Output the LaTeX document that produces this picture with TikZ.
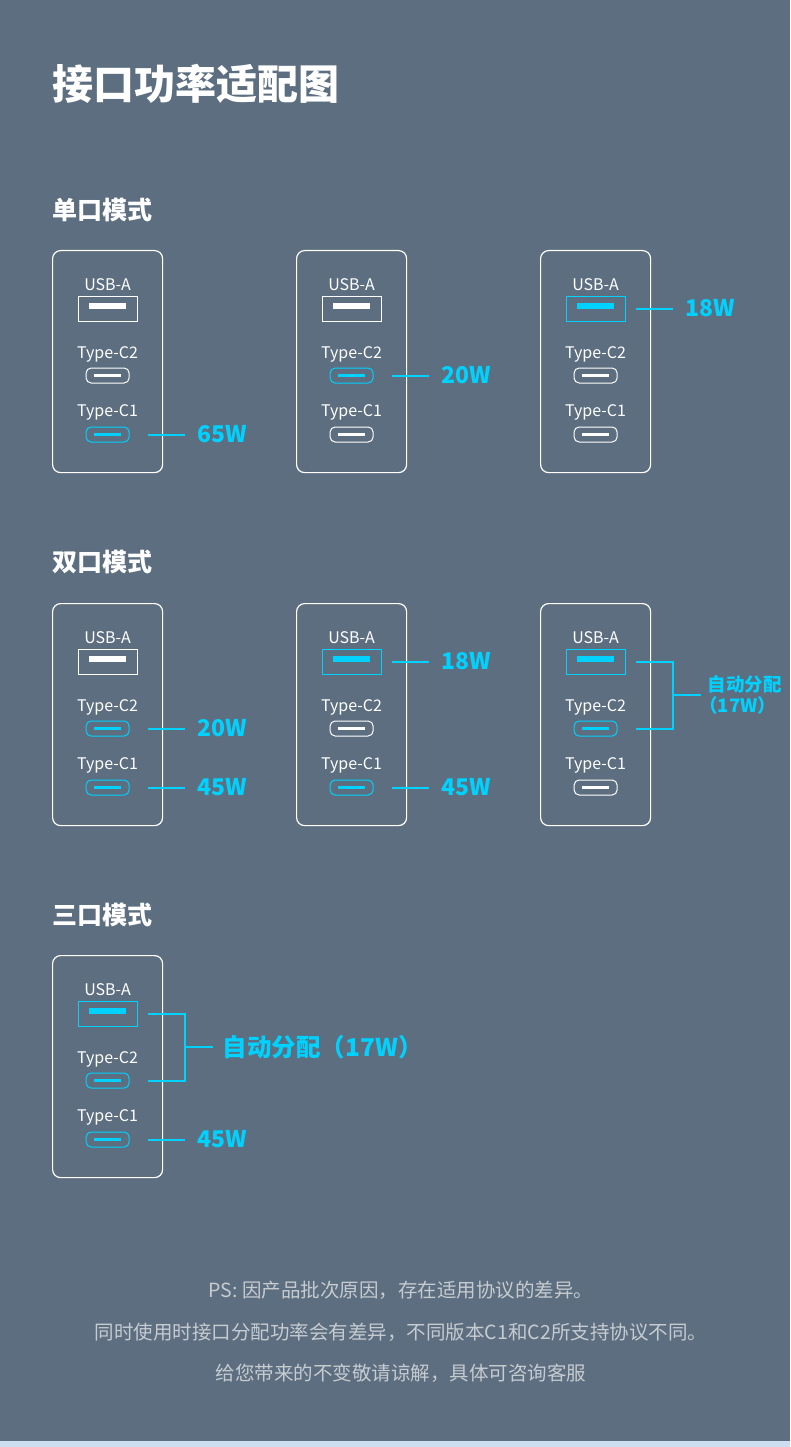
\documentclass[tikz,border=0pt]{standalone}
\usepackage{fontspec}
\setmainfont{Noto Sans CJK SC}
\usepackage{tikz}
\usetikzlibrary{positioning, calc}
\usepackage{xcolor}
\definecolor{slate}{RGB}{92,110,128}
\definecolor{strip}{RGB}{204,222,240}
\definecolor{volt}{RGB}{0,210,255}
\definecolor{notegray}{RGB}{198,203,208}
\tikzstyle{pagetitle} = [anchor=west, inner sep=0pt, text=white, font=\fontsize{41}{41}\selectfont\bfseries]
\tikzstyle{heading} = [anchor=west, inner sep=0pt, text=white, font=\fontsize{25}{25}\selectfont\bfseries]
\tikzstyle{card} = [rectangle, rounded corners=8pt, minimum width=110pt, minimum height=222pt,
    draw=white, line width=1.2pt, inner sep=0pt]
\tikzstyle{portlabel} = [anchor=base, inner sep=0pt, text=white, font=\fontsize{16}{16}\selectfont]
\tikzstyle{portidle} = [color=white]
\tikzstyle{portlive} = [color=volt]
\tikzstyle{usbport} = [rectangle, draw, line width=1pt, minimum width=59pt, minimum height=25pt, inner sep=0pt,
    path picture={\fill[sharp corners] ([xshift=-18.5pt]path picture bounding box.center)
        rectangle ([xshift=18.5pt, yshift=6pt]path picture bounding box.center);}]
\tikzstyle{cport} = [rectangle, rounded corners=5pt, draw, line width=1pt, minimum width=43pt, minimum height=15pt, inner sep=0pt,
    path picture={\fill[sharp corners] ([xshift=-13.5pt, yshift=-1.5pt]path picture bounding box.center)
        rectangle ([xshift=13.5pt, yshift=1.5pt]path picture bounding box.center);}]
\tikzstyle{wire} = [draw=volt, line width=2pt]
\tikzstyle{watt} = [anchor=west, inner sep=0pt, text=volt, font=\fontsize{23}{23}\selectfont\bfseries]
\tikzstyle{sharebig} = [anchor=west, inner sep=0pt, text=volt, font=\fontsize{24.5}{24.5}\selectfont\bfseries]
\tikzstyle{shareinfo} = [anchor=west, inner sep=0pt, text=volt, align=left, font=\fontsize{18.5}{21}\selectfont\bfseries]
\tikzstyle{note} = [inner sep=0pt, text=notegray, font=\fontsize{19.5}{19.5}\selectfont]

% card with three ports: name, top left corner, look of USB-A, Type-C2, Type-C1
\newcommand{\charger}[5]{%
  \node[card, anchor=north west] (#1) at (#2) {};
  \node[portlabel] (#1la) at ($(#1.north)+(0,40)$) {USB-A};
  \node[usbport, #3] (#1a) at ($(#1.north)+(0,58.5)$) {};
  \node[portlabel] (#1l2) at ($(#1.north)+(0,108.5)$) {Type-C2};
  \node[cport, #4] (#1c2) at ($(#1.north)+(0,125.5)$) {};
  \node[portlabel] (#1l1) at ($(#1.north)+(0,166.5)$) {Type-C1};
  \node[cport, #5] (#1c1) at ($(#1.north)+(0,184.5)$) {};
  \coordinate (#1ta) at ($(#1a)+(40,0)$);
  \coordinate (#1t2) at ($(#1c2)+(40,0)$);
  \coordinate (#1t1) at ($(#1c1)+(40,0)$);
}

\begin{document}
\begin{tikzpicture}[x=1pt, y=-1pt]
\fill[slate] (0,0) rectangle (790,1447);
\fill[strip] (0,1441) rectangle (790,1447);
\useasboundingbox (0,0) rectangle (790,1447);

\node[pagetitle] (title) at (52,84) {接口功率适配图};

% single port
\node[heading] (single) at (52,210) {单口模式};
\charger{s1}{52,250}{portidle}{portidle}{portlive}
\charger{s2}{296,250}{portidle}{portlive}{portidle}
\charger{s3}{540,250}{portlive}{portidle}{portidle}
\node[watt] (s1w) at ($(s1t1)+(50,0)$) {65W};
\draw[wire] (s1t1) -- ([xshift=-13pt]s1w.west);
\node[watt] (s2w) at ($(s2t2)+(50,0)$) {20W};
\draw[wire] (s2t2) -- ([xshift=-13pt]s2w.west);
\node[watt] (s3w) at ($(s3ta)+(50,0)$) {18W};
\draw[wire] (s3ta) -- ([xshift=-13pt]s3w.west);

% two ports
\node[heading] (double) at (52,562) {双口模式};
\charger{d1}{52,603}{portidle}{portlive}{portlive}
\charger{d2}{296,603}{portlive}{portidle}{portlive}
\charger{d3}{540,603}{portlive}{portlive}{portidle}
\node[watt] (d1w2) at ($(d1t2)+(50,0)$) {20W};
\draw[wire] (d1t2) -- ([xshift=-13pt]d1w2.west);
\node[watt] (d1w1) at ($(d1t1)+(50,0)$) {45W};
\draw[wire] (d1t1) -- ([xshift=-13pt]d1w1.west);
\node[watt] (d2wa) at ($(d2ta)+(50,0)$) {18W};
\draw[wire] (d2ta) -- ([xshift=-13pt]d2wa.west);
\node[watt] (d2w1) at ($(d2t1)+(50,0)$) {45W};
\draw[wire] (d2t1) -- ([xshift=-13pt]d2w1.west);
\coordinate (d3m) at ($(d3ta)!0.5!(d3t2)+(37,0)$);
\draw[wire] (d3ta) -- ++(37,0) |- (d3t2);
\node[shareinfo] (d3w) at ($(d3m)+(35,0)$) {自动分配\\\hspace*{-0.45em}（17W）};
\draw[wire] (d3m) -- ([xshift=-7pt]d3w.west);

% three ports
\node[heading] (triple) at (52,915) {三口模式};
\charger{t1}{52,955}{portlive}{portlive}{portlive}
\coordinate (t1m) at ($(t1ta)!0.5!(t1t2)+(37,0)$);
\draw[wire] (t1ta) -- ++(37,0) |- (t1t2);
\node[sharebig] (t1w) at ($(t1m)+(38,0)$) {自动分配（17W）};
\draw[wire] (t1m) -- ([xshift=-10pt]t1w.west);
\node[watt] (t1w1) at ($(t1t1)+(50,0)$) {45W};
\draw[wire] (t1t1) -- ([xshift=-13pt]t1w1.west);

% notes
\node[note] (ps1) at (401,1290) {PS: 因产品批次原因，存在适用协议的差异。};
\node[note] (ps2) at (401,1332) {同时使用时接口分配功率会有差异，不同版本C1和C2所支持协议不同。};
\node[note] (ps3) at (401,1373) {给您带来的不变敬请谅解，具体可咨询客服};
\end{tikzpicture}
\end{document}
